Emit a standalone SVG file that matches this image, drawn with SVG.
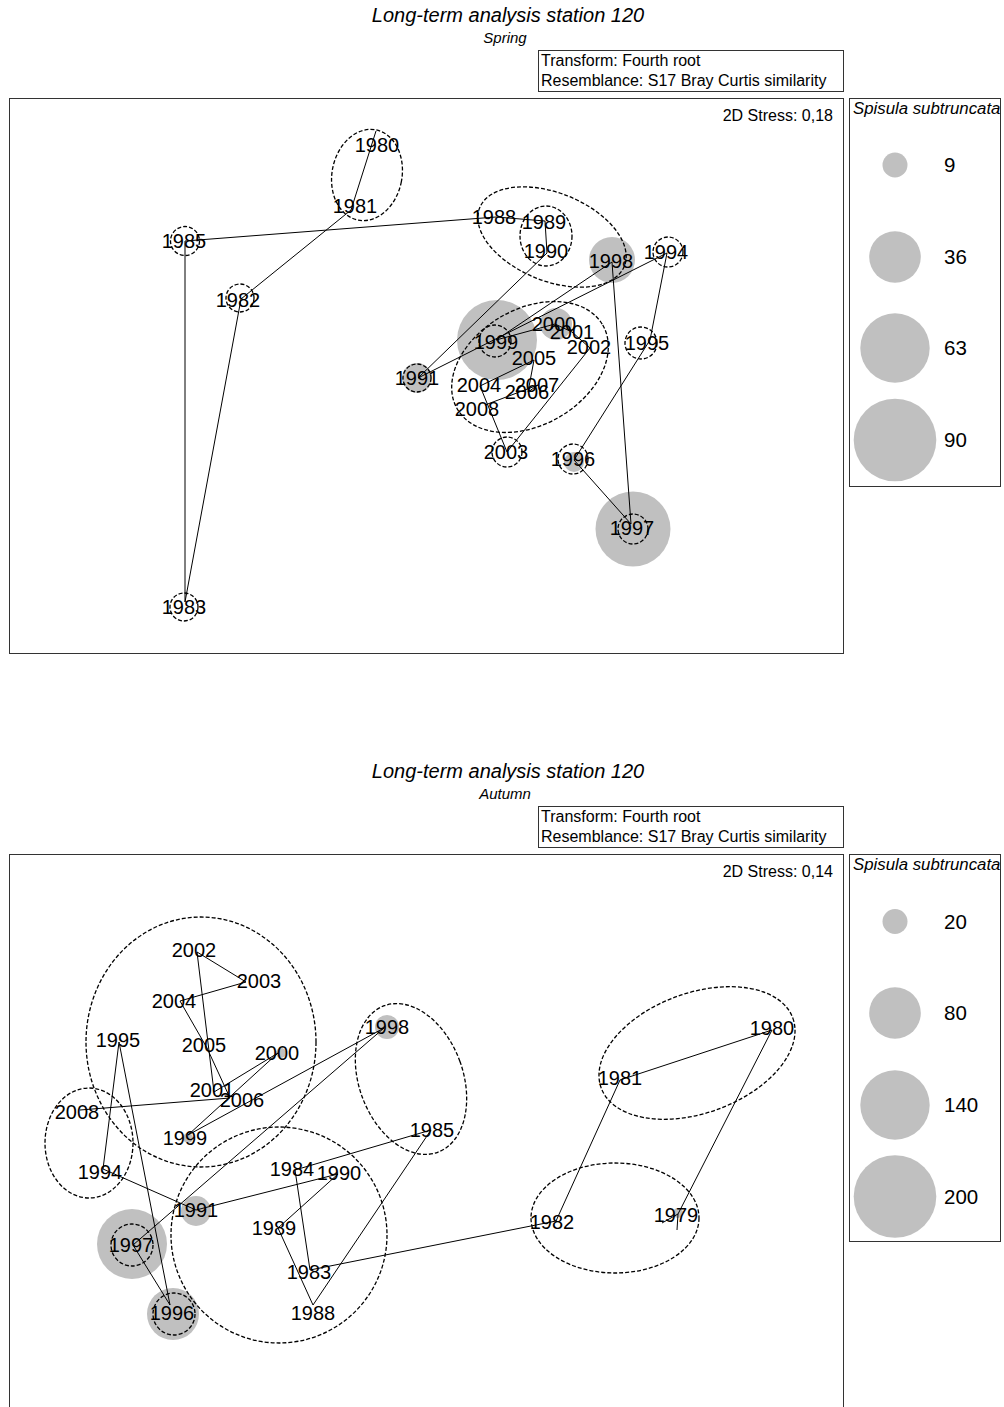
<svg xmlns="http://www.w3.org/2000/svg" width="1004" height="1407" viewBox="0 0 1004 1407">
<style>
text{font-family:"Liberation Sans",Arial,sans-serif;fill:#000}
.t{font-size:20px;font-style:italic;text-anchor:middle}
.st{font-size:15px;font-style:italic;text-anchor:middle}
.info{font-size:16px}
.stress{font-size:16px;text-anchor:end}
.leg{font-size:16.8px;font-style:italic}
.lv{font-size:20.5px}
.lbl{font-size:20px;text-anchor:middle}
.box{fill:none;stroke:#333;stroke-width:1}
.bub{fill:#c0c0c0}
.dc{fill:none;stroke:#000;stroke-width:1.3;stroke-dasharray:4 2}
.con line{stroke:#000;stroke-width:1}
</style>

<!-- ===================== SPRING ===================== -->
<g id="spring-frame">
<text class="t" x="508" y="22">Long-term analysis station 120</text>
<text class="st" x="505" y="43">Spring</text>
<rect class="box" x="538.5" y="50.5" width="305" height="41"/>
<text class="info" x="541" y="66">Transform: Fourth root</text>
<text class="info" x="541" y="86">Resemblance: S17 Bray Curtis similarity</text>
<rect class="box" x="9.5" y="98.5" width="834" height="555"/>
<text class="stress" x="833" y="121">2D Stress: 0,18</text>
</g>
<g id="spring-legend">
<rect class="box" x="849.5" y="98.5" width="151" height="388"/>
<text class="leg" x="853" y="114">Spisula subtruncata</text>
<circle class="bub" cx="895" cy="165" r="12.5"/>
<text class="lv" x="944" y="172">9</text>
<circle class="bub" cx="895" cy="257" r="25.8"/>
<text class="lv" x="944" y="264">36</text>
<circle class="bub" cx="895" cy="348" r="34.7"/>
<text class="lv" x="944" y="355">63</text>
<circle class="bub" cx="895" cy="440" r="41.3"/>
<text class="lv" x="944" y="447">90</text>
</g>
<g id="spring-bubbles">
<circle class="bub" cx="612" cy="260" r="23"/>
<circle class="bub" cx="497" cy="340" r="40"/>
<circle class="bub" cx="556" cy="324" r="16"/>
<circle class="bub" cx="574" cy="462" r="10"/>
<circle class="bub" cx="633" cy="529" r="37.5"/>
<circle class="bub" cx="417" cy="378" r="15"/>
</g>
<g id="spring-connectors" class="con">
<line x1="376" y1="131" x2="351" y2="210"/>
<line x1="351" y1="210" x2="241" y2="299"/>
<line x1="241" y1="299" x2="185" y2="602"/>
<line x1="185" y1="602" x2="185" y2="241"/>
<line x1="185" y1="241" x2="496" y2="217"/>
<line x1="496" y1="217" x2="545" y2="221"/>
<line x1="545" y1="221" x2="547" y2="253"/>
<line x1="547" y1="253" x2="418" y2="378"/>
<line x1="418" y1="378" x2="667" y2="253"/>
<line x1="667" y1="253" x2="650" y2="340"/>
<line x1="650" y1="340" x2="574" y2="460"/>
<line x1="574" y1="460" x2="631" y2="524"/>
<line x1="631" y1="524" x2="612" y2="262"/>
<line x1="612" y1="262" x2="496" y2="340"/>
<line x1="496" y1="340" x2="555" y2="324"/>
<line x1="555" y1="324" x2="572" y2="332"/>
<line x1="572" y1="332" x2="590" y2="348"/>
<line x1="590" y1="348" x2="507" y2="452"/>
<line x1="507" y1="452" x2="480" y2="386"/>
<line x1="480" y1="386" x2="534" y2="360"/>
<line x1="534" y1="360" x2="528" y2="392"/>
<line x1="528" y1="392" x2="538" y2="385"/>
<line x1="538" y1="385" x2="485" y2="405"/>
</g>
<g id="spring-clusters">
<ellipse class="dc" cx="0" cy="0" rx="35" ry="46" transform="translate(367 175) rotate(11)"/>
<ellipse class="dc" cx="546" cy="236" rx="26" ry="30"/>
<ellipse class="dc" cx="0" cy="0" rx="78" ry="44" transform="translate(552 237) rotate(22)"/>
<ellipse class="dc" cx="0" cy="0" rx="84" ry="58" transform="translate(530 367) rotate(-30)"/>
</g>
<g id="s1980"><text class="lbl" x="377" y="152">1980</text></g>
<g id="s1981"><text class="lbl" x="355" y="213">1981</text></g>
<g id="s1982"><circle class="dc" cx="240" cy="298" r="14"/><text class="lbl" x="238" y="307">1982</text></g>
<g id="s1983"><circle class="dc" cx="184" cy="607" r="14"/><text class="lbl" x="184" y="614">1983</text></g>
<g id="s1985"><circle class="dc" cx="185" cy="241" r="14.5"/><text class="lbl" x="184" y="248">1985</text></g>
<g id="s1988"><text class="lbl" x="494" y="224">1988</text></g>
<g id="s1989"><text class="lbl" x="544" y="229">1989</text></g>
<g id="s1990"><text class="lbl" x="546" y="258">1990</text></g>
<g id="s1991"><circle class="dc" cx="417" cy="378" r="14"/><text class="lbl" x="417" y="385">1991</text></g>
<g id="s1994"><circle class="dc" cx="668" cy="252" r="15"/><text class="lbl" x="666" y="259">1994</text></g>
<g id="s1995"><circle class="dc" cx="641" cy="343" r="16"/><text class="lbl" x="647" y="350">1995</text></g>
<g id="s1996"><circle class="dc" cx="573" cy="459" r="15"/><text class="lbl" x="573" y="466">1996</text></g>
<g id="s1997"><circle class="dc" cx="633" cy="529" r="15"/><text class="lbl" x="632" y="535">1997</text></g>
<g id="s1998"><text class="lbl" x="611" y="268">1998</text></g>
<g id="s1999"><circle class="dc" cx="495" cy="341" r="16"/><text class="lbl" x="496" y="349">1999</text></g>
<g id="s2000"><text class="lbl" x="554" y="331">2000</text></g>
<g id="s2001"><text class="lbl" x="572" y="339">2001</text></g>
<g id="s2002"><text class="lbl" x="589" y="354">2002</text></g>
<g id="s2003"><circle class="dc" cx="507" cy="452" r="15"/><text class="lbl" x="506" y="459">2003</text></g>
<g id="s2004"><text class="lbl" x="479" y="392">2004</text></g>
<g id="s2005"><text class="lbl" x="534" y="365">2005</text></g>
<g id="s2006"><text class="lbl" x="527" y="399">2006</text></g>
<g id="s2007"><text class="lbl" x="537" y="392">2007</text></g>
<g id="s2008"><text class="lbl" x="477" y="416">2008</text></g>

<!-- ===================== AUTUMN ===================== -->
<g id="autumn-frame">
<text class="t" x="508" y="778">Long-term analysis station 120</text>
<text class="st" x="505" y="799">Autumn</text>
<rect class="box" x="538.5" y="806.5" width="305" height="41"/>
<text class="info" x="541" y="822">Transform: Fourth root</text>
<text class="info" x="541" y="842">Resemblance: S17 Bray Curtis similarity</text>
<rect class="box" x="9.5" y="854.5" width="834" height="600"/>
<text class="stress" x="833" y="877">2D Stress: 0,14</text>
</g>
<g id="autumn-legend">
<rect class="box" x="849.5" y="854.5" width="151" height="387"/>
<text class="leg" x="853" y="870">Spisula subtruncata</text>
<circle class="bub" cx="895" cy="921.5" r="12.5"/>
<text class="lv" x="944" y="928.5">20</text>
<circle class="bub" cx="895" cy="1013" r="25.8"/>
<text class="lv" x="944" y="1020">80</text>
<circle class="bub" cx="895" cy="1105" r="34.7"/>
<text class="lv" x="944" y="1112">140</text>
<circle class="bub" cx="895" cy="1196.5" r="41.3"/>
<text class="lv" x="944" y="1203.5">200</text>
</g>
<g id="autumn-bubbles">
<circle class="bub" cx="173" cy="1314" r="26"/>
<circle class="bub" cx="132" cy="1244" r="35"/>
<circle class="bub" cx="196" cy="1211" r="15"/>
<circle class="bub" cx="387" cy="1027" r="12"/>
<circle class="bub" cx="188" cy="1138" r="5"/>
<circle class="bub" cx="281" cy="1053" r="5"/>
<circle class="bub" cx="678" cy="1213" r="5"/>
</g>
<g id="autumn-connectors" class="con">
<line x1="662" y1="1223" x2="678" y2="1214"/>
<line x1="678" y1="1214" x2="677" y2="1230"/>
<line x1="678" y1="1214" x2="772" y2="1030"/>
<line x1="772" y1="1030" x2="620" y2="1080"/>
<line x1="620" y1="1080" x2="556" y2="1221"/>
<line x1="556" y1="1221" x2="310" y2="1270"/>
<line x1="310" y1="1270" x2="295" y2="1170"/>
<line x1="295" y1="1170" x2="431" y2="1130"/>
<line x1="431" y1="1130" x2="313" y2="1305"/>
<line x1="313" y1="1305" x2="278" y2="1228"/>
<line x1="278" y1="1228" x2="338" y2="1174"/>
<line x1="338" y1="1174" x2="196" y2="1210"/>
<line x1="196" y1="1210" x2="103" y2="1169"/>
<line x1="103" y1="1169" x2="119" y2="1042"/>
<line x1="119" y1="1042" x2="170" y2="1305"/>
<line x1="170" y1="1305" x2="133" y2="1245"/>
<line x1="133" y1="1245" x2="384" y2="1028"/>
<line x1="384" y1="1028" x2="188" y2="1135"/>
<line x1="188" y1="1135" x2="278" y2="1053"/>
<line x1="278" y1="1053" x2="214" y2="1092"/>
<line x1="214" y1="1092" x2="197" y2="952"/>
<line x1="197" y1="952" x2="246" y2="982"/>
<line x1="246" y1="982" x2="180" y2="1001"/>
<line x1="180" y1="1001" x2="207" y2="1048"/>
<line x1="207" y1="1048" x2="230" y2="1098"/>
<line x1="230" y1="1098" x2="80" y2="1110"/>
</g>
<g id="autumn-clusters">
<ellipse class="dc" cx="201" cy="1042" rx="115" ry="125"/>
<ellipse class="dc" cx="89" cy="1143" rx="44" ry="55"/>
<ellipse class="dc" cx="279" cy="1235" rx="108" ry="108"/>
<ellipse class="dc" cx="0" cy="0" rx="52" ry="78" transform="translate(411 1079) rotate(-20)"/>
<ellipse class="dc" cx="0" cy="0" rx="102" ry="60" transform="translate(697 1053) rotate(-20)"/>
<ellipse class="dc" cx="615" cy="1218" rx="84" ry="55"/>
<circle class="dc" cx="132" cy="1245" r="21"/>
<circle class="dc" cx="174" cy="1314" r="21"/>
</g>
<g id="a1979"><text class="lbl" x="676" y="1222">1979</text></g>
<g id="a1980"><text class="lbl" x="772" y="1035">1980</text></g>
<g id="a1981"><text class="lbl" x="620" y="1085">1981</text></g>
<g id="a1982"><text class="lbl" x="552" y="1229">1982</text></g>
<g id="a1983"><text class="lbl" x="309" y="1279">1983</text></g>
<g id="a1984"><text class="lbl" x="292" y="1176">1984</text></g>
<g id="a1985"><text class="lbl" x="432" y="1137">1985</text></g>
<g id="a1988"><text class="lbl" x="313" y="1320">1988</text></g>
<g id="a1989"><text class="lbl" x="274" y="1235">1989</text></g>
<g id="a1990"><text class="lbl" x="339" y="1180">1990</text></g>
<g id="a1991"><text class="lbl" x="196" y="1217">1991</text></g>
<g id="a1994"><text class="lbl" x="100" y="1179">1994</text></g>
<g id="a1995"><text class="lbl" x="118" y="1047">1995</text></g>
<g id="a1996"><text class="lbl" x="172" y="1320">1996</text></g>
<g id="a1997"><text class="lbl" x="131" y="1252">1997</text></g>
<g id="a1998"><text class="lbl" x="387" y="1034">1998</text></g>
<g id="a1999"><text class="lbl" x="185" y="1145">1999</text></g>
<g id="a2000"><text class="lbl" x="277" y="1060">2000</text></g>
<g id="a2001"><text class="lbl" x="212" y="1097">2001</text></g>
<g id="a2002"><text class="lbl" x="194" y="957">2002</text></g>
<g id="a2003"><text class="lbl" x="259" y="988">2003</text></g>
<g id="a2004"><text class="lbl" x="174" y="1008">2004</text></g>
<g id="a2005"><text class="lbl" x="204" y="1052">2005</text></g>
<g id="a2006"><text class="lbl" x="242" y="1107">2006</text></g>
<g id="a2008"><text class="lbl" x="77" y="1119">2008</text></g>
</svg>
